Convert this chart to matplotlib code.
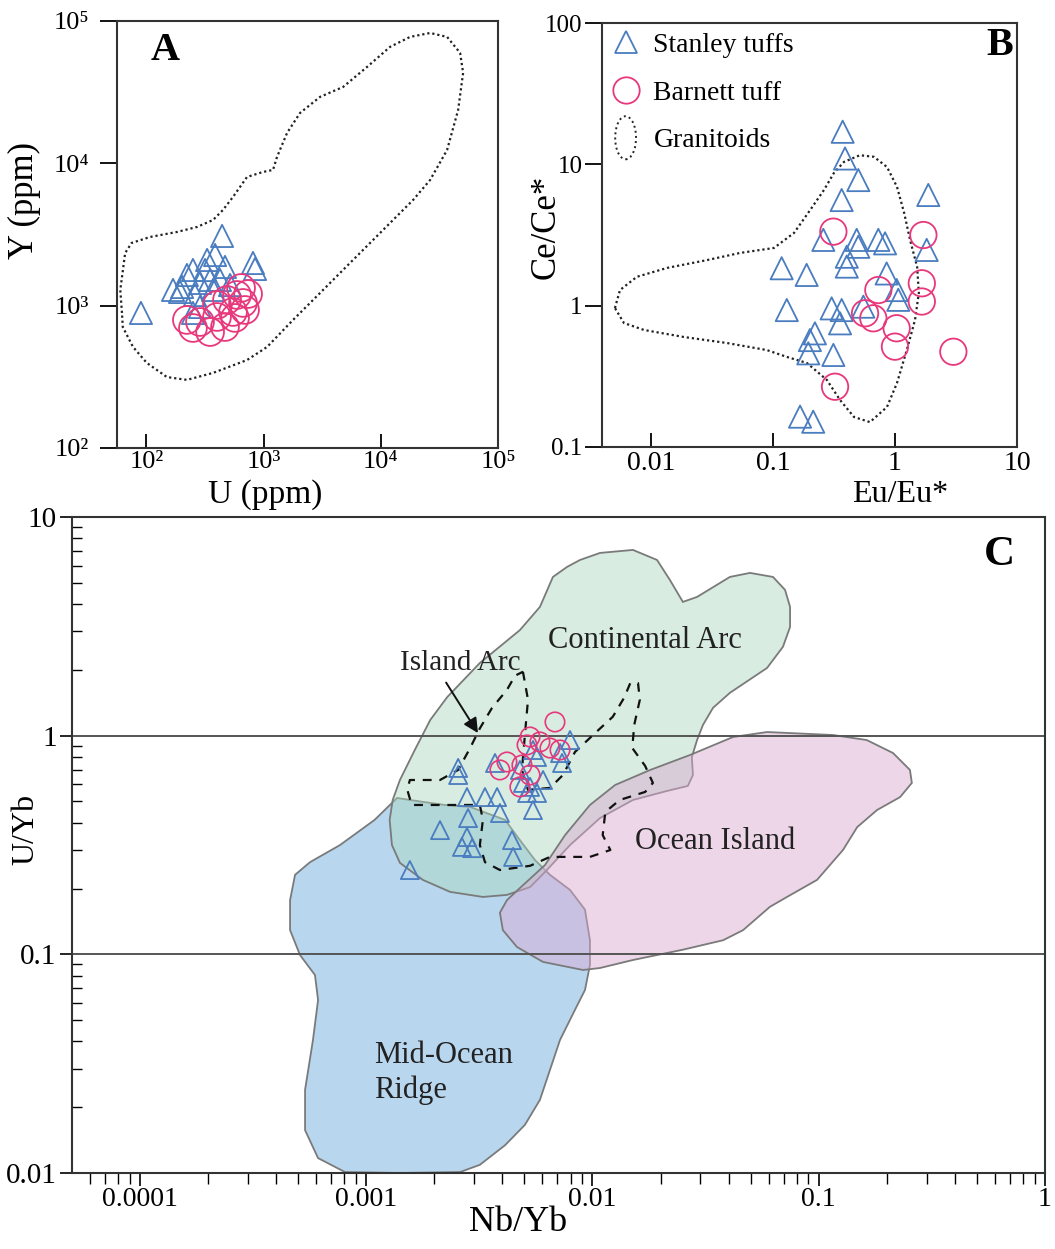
import matplotlib
matplotlib.use("Agg")
import numpy as np
import matplotlib.pyplot as plt
from matplotlib.lines import Line2D
from matplotlib.patches import Ellipse, Polygon
from matplotlib.legend_handler import HandlerPatch
from matplotlib.ticker import LogLocator, NullFormatter, NullLocator

plt.rcParams["font.family"] = ["Liberation Serif", "DejaVu Serif"]

BLUE = "#4a7cc0"
PINK = "#e8387c"
SPINE = "#333333"

# ---------------- panel A : Y vs U (ppm)
stanley_a_u = [90, 443, 813, 846, 250, 330, 386, 469, 202, 194, 287, 350, 425, 287,
               250, 169, 222, 371, 518, 317, 260]
stanley_a_y = [889, 3090, 1995, 1811, 1782, 2095, 2270, 1871, 1353, 1248, 1445, 1516,
               1516, 979, 889, 1290, 1643, 1290, 1397, 1782, 1189]
barnett_a_u = [594, 668, 549, 488, 643, 738, 401, 287, 250, 350, 469, 222, 571, 401, 695]
barnett_a_y = [1189, 1045, 903, 1097, 1332, 1208, 833, 768, 697, 653, 708, 794, 820,
               1012, 933]
granitoid_a_u = [62, 60, 66, 75, 108, 183, 271, 371, 451, 549, 723, 991, 1205, 1303,
                 1588, 2049, 3035, 4769, 7638, 12000, 17780, 26360, 36800, 47500, 50400,
                 45700, 36800, 26360, 18870, 10470, 5800, 3035, 1786, 1072, 723, 371,
                 222, 150, 101, 77, 63]
granitoid_a_y = [889, 1290, 2345, 2760, 3040, 3296, 3573, 4000, 4706, 5808, 8020, 8700,
                 8990, 11090, 16360, 22600, 29300, 34400, 47550, 65800, 77300, 82400,
                 77300, 59700, 43200, 23700, 12420, 7640, 5530, 3404, 2095, 1228, 794,
                 513, 415, 337, 301, 315, 396, 513, 708]
a_ticks = [1e2, 1e3, 1e4, 1e5]
a_tick_labels = ["10²", "10³", "10⁴", "10⁵"]

# ---------------- panel B : Ce/Ce* vs Eu/Eu*
stanley_b_eu = [0.373, 0.390, 0.501, 0.366, 1.876, 0.259, 0.486, 0.501, 0.731, 0.830,
                1.820, 0.118, 0.189, 0.403, 0.403, 0.855, 0.130, 0.303, 0.366, 0.551,
                1.033, 1.065, 0.355, 0.201, 0.221, 0.195, 0.313, 0.167, 0.214]
stanley_b_ce = [17.0, 11.0, 7.74, 5.59, 6.07, 2.92, 2.92, 2.61, 2.92, 2.76, 2.48, 1.84,
                1.65, 2.22, 1.89, 1.69, 0.931, 0.957, 0.931, 0.984, 1.29, 1.10, 0.750,
                0.571, 0.637, 0.460, 0.448, 0.164, 0.151]
barnett_b_eu = [0.313, 1.71, 1.66, 1.66, 0.731, 0.569, 0.665, 1.033, 1.00, 3.01, 0.323]
barnett_b_ce = [3.34, 3.16, 1.44, 1.07, 1.29, 0.883, 0.814, 0.692, 0.513, 0.472, 0.267]
granitoid_b_eu = [0.00508, 0.00559, 0.00768, 0.0136, 0.0288, 0.0537, 0.102, 0.149, 0.202,
                  0.262, 0.316, 0.382, 0.516, 0.673, 0.861, 1.04, 1.19, 1.33, 1.52, 1.57,
                  1.46, 1.25, 1.04, 0.861, 0.624, 0.462, 0.355, 0.277, 0.190, 0.130,
                  0.0893, 0.0421, 0.0187, 0.00879, 0.00602]
granitoid_b_ce = [0.962, 1.29, 1.60, 1.85, 2.10, 2.36, 2.56, 3.27, 4.75, 6.58, 8.68, 10.4,
                  11.6, 11.3, 9.57, 6.92, 4.53, 2.92, 1.88, 1.23, 0.792, 0.485, 0.284,
                  0.192, 0.150, 0.163, 0.215, 0.298, 0.393, 0.434, 0.485, 0.544, 0.600,
                  0.673, 0.754]
b_xticks = [0.01, 0.1, 1, 10]
b_xtick_labels = ["0.01", "0.1", "1", "10"]
b_yticks = [0.1, 1, 10, 100]
b_ytick_labels = ["0.1", "1", "10", "100"]

# ---------------- panel C : U/Yb vs Nb/Yb
stanley_c_nb = [0.00255, 0.00255, 0.00279, 0.00282, 0.00279, 0.00265, 0.00294, 0.00212,
                0.00335, 0.00371, 0.00379, 0.00390, 0.00441, 0.00446, 0.00478, 0.00493,
                0.00530, 0.00514, 0.00569, 0.00546, 0.00546, 0.00569, 0.00719, 0.00734,
                0.00796, 0.00605, 0.00156]
stanley_c_u = [0.712, 0.661, 0.524, 0.420, 0.344, 0.310, 0.306, 0.370, 0.524, 0.750,
               0.524, 0.443, 0.333, 0.279, 0.697, 0.608, 0.583, 0.547, 0.547, 0.457,
               0.860, 0.799, 0.833, 0.750, 0.955, 0.627, 0.243]
barnett_c_nb = [0.00683, 0.00530, 0.00586, 0.00514, 0.00649, 0.00719, 0.00419, 0.00390,
                0.00488, 0.00478, 0.00530]
barnett_c_u = [1.155, 0.986, 0.936, 0.907, 0.878, 0.860, 0.758, 0.697, 0.734, 0.583, 0.661]

mor_nb = [0.00137, 0.00156, 0.00223, 0.00288, 0.00411, 0.00478, 0.00557, 0.00649, 0.00796,
          0.00927, 0.00975, 0.00975, 0.00927, 0.00837, 0.00719, 0.00649, 0.00586,
          0.00503, 0.00411, 0.00318, 0.00260, 0.00141, 0.000806, 0.000613, 0.000537,
          0.000537, 0.000582, 0.000613, 0.000594, 0.000510, 0.000461, 0.000461,
          0.000485, 0.000565, 0.000766, 0.00109]
mor_u = [0.519, 0.508, 0.482, 0.472, 0.412, 0.333, 0.270, 0.231, 0.197, 0.160, 0.116,
         0.0894, 0.0687, 0.0557, 0.0406, 0.0296, 0.0216, 0.0166, 0.0134, 0.0109, 0.0101,
         0.0100, 0.0101, 0.0117, 0.0157, 0.0240, 0.0406, 0.0618, 0.0804, 0.0993, 0.129,
         0.177, 0.231, 0.264, 0.316, 0.412]
ca_nb = [0.00772, 0.00881, 0.0108, 0.0151, 0.0193, 0.0220, 0.0251, 0.0290, 0.0405, 0.0497,
         0.0628, 0.0710, 0.0747, 0.0747, 0.0695, 0.0591, 0.0405, 0.0341, 0.0308, 0.0290,
         0.0275, 0.0278, 0.0264, 0.0214, 0.0151, 0.0108, 0.00796, 0.00617, 0.00530,
         0.00419, 0.00328, 0.00235, 0.00178, 0.00141, 0.00130, 0.00127, 0.00131, 0.00141,
         0.00164, 0.00192, 0.00228, 0.00318, 0.00478, 0.00586, 0.00669]
ca_u = [5.91, 6.36, 6.85, 7.07, 6.36, 5.15, 4.09, 4.31, 5.32, 5.55, 5.32, 4.64, 3.88, 3.14,
        2.55, 2.04, 1.57, 1.34, 1.12, 0.955, 0.799, 0.661, 0.589, 0.559, 0.508, 0.420,
        0.316, 0.238, 0.203, 0.187, 0.183, 0.193, 0.219, 0.262, 0.316, 0.412, 0.508, 0.627,
        0.860, 1.18, 1.50, 2.15, 3.04, 3.88, 5.32]
oi_nb = [0.00617, 0.00757, 0.00975, 0.0126, 0.0180, 0.0270, 0.0418, 0.0591, 0.1156, 0.163,
         0.213, 0.253, 0.258, 0.229, 0.181, 0.148, 0.128, 0.0983, 0.0724, 0.0609, 0.0463,
         0.0378, 0.0251, 0.0151, 0.0108, 0.00909, 0.00605, 0.00464, 0.00402, 0.00390,
         0.00419, 0.00478]
oi_u = [0.256, 0.351, 0.482, 0.595, 0.697, 0.816, 0.986, 1.039, 1.007, 0.955, 0.833, 0.697,
        0.608, 0.524, 0.457, 0.382, 0.300, 0.219, 0.183, 0.165, 0.129, 0.116, 0.105,
        0.0942, 0.0866, 0.0848, 0.0923, 0.108, 0.129, 0.155, 0.177, 0.201]
iarc_nb = [0.00493, 0.00519, 0.00503, 0.00488, 0.00519, 0.00649, 0.00741, 0.00837, 0.0103,
           0.0123, 0.0138, 0.0147, 0.0159, 0.0162, 0.0153, 0.0150, 0.0171, 0.0185, 0.0171,
           0.0132, 0.0114, 0.0111, 0.0120, 0.00975, 0.00649, 0.00530, 0.00390, 0.00335,
           0.00318, 0.00328, 0.00318, 0.00228, 0.00159, 0.00152, 0.00156, 0.00212,
           0.00255, 0.00288, 0.00318, 0.00360, 0.00419, 0.00455]
iarc_u = [1.96, 1.46, 1.01, 0.697, 0.565, 0.577, 0.661, 0.842, 1.03, 1.22, 1.49, 1.74,
          1.74, 1.46, 1.12, 0.878, 0.727, 0.608, 0.553, 0.508, 0.448, 0.351, 0.300, 0.279,
          0.279, 0.254, 0.243, 0.264, 0.316, 0.412, 0.482, 0.482, 0.482, 0.565, 0.627,
          0.627, 0.697, 0.878, 1.08, 1.34, 1.62, 1.88]
island_arc_tip = (0.00312, 1.028)
c_xticks = [1e-4, 1e-3, 1e-2, 1e-1, 1]
c_xtick_labels = ["0.0001", "0.001", "0.01", "0.1", "1"]
c_yticks = [0.01, 0.1, 1, 10]
c_ytick_labels = ["0.01", "0.1", "1", "10"]
c_reference_lines = [1, 0.1]


def closed(xs, ys):
    return list(xs) + [xs[0]], list(ys) + [ys[0]]


def style_spines(ax):
    for sp in ax.spines.values():
        sp.set_color(SPINE)
        sp.set_linewidth(1.5)


def make_ellipse(legend, orig_handle, xdescent, ydescent, width, height, fontsize):
    return Ellipse((0.5 * width - xdescent, 0.5 * height - ydescent), 15, 31)


fig = plt.figure(figsize=(10.55, 12.49), dpi=100)
ax_a = fig.add_axes([117 / 1055, 1 - 448 / 1249, 381 / 1055, 427 / 1249])
ax_b = fig.add_axes([602 / 1055, 1 - 447 / 1249, 415 / 1055, 424 / 1249])
ax_c = fig.add_axes([72 / 1055, 1 - 1173 / 1249, 973 / 1055, 656 / 1249])

dots = (0, (1, 1.3))

# ---- A
ax_a.set_xscale("log")
ax_a.set_yscale("log")
ax_a.set_xlim(10 ** 1.75, 1e5)
ax_a.set_ylim(1e2, 1e5)
gx, gy = closed(granitoid_a_u, granitoid_a_y)
ax_a.plot(gx, gy, color="#222222", lw=1.6, ls=dots)
ax_a.scatter(stanley_a_u, stanley_a_y, marker="^", s=16 ** 2, facecolors="none",
             edgecolors=BLUE, linewidths=1.3, zorder=3)
ax_a.scatter(barnett_a_u, barnett_a_y, marker="o", s=20 ** 2, facecolors="none",
             edgecolors=PINK, linewidths=1.3, zorder=4)
ax_a.set_xticks(a_ticks)
ax_a.set_xticklabels(a_tick_labels)
ax_a.set_yticks(a_ticks)
ax_a.set_yticklabels(a_tick_labels)
ax_a.xaxis.set_minor_locator(NullLocator())
ax_a.yaxis.set_minor_locator(NullLocator())
ax_a.tick_params(axis="x", direction="in", length=10, width=1.3, labelsize=19, pad=2)
ax_a.tick_params(axis="y", direction="out", length=12, width=1.3, labelsize=19, pad=8)
ax_a.set_xlabel("U (ppm)", fontsize=24)
ax_a.set_ylabel("Y (ppm)", fontsize=25)
ax_a.xaxis.set_label_coords(0.388, -0.074)
ax_a.yaxis.set_label_coords(-0.20, 0.58)
ax_a.text(0.126, 0.932, "A", transform=ax_a.transAxes, fontsize=29, fontweight="bold",
          ha="center", va="center")
style_spines(ax_a)

# ---- B
ax_b.set_xscale("log")
ax_b.set_yscale("log")
ax_b.set_xlim(10 ** -2.4, 10)
ax_b.set_ylim(0.1, 100)
gx, gy = closed(granitoid_b_eu, granitoid_b_ce)
ax_b.plot(gx, gy, color="#222222", lw=1.6, ls=dots)
ax_b.scatter(stanley_b_eu, stanley_b_ce, marker="^", s=16 ** 2, facecolors="none",
             edgecolors=BLUE, linewidths=1.3, zorder=3)
ax_b.scatter(barnett_b_eu, barnett_b_ce, marker="o", s=19 ** 2, facecolors="none",
             edgecolors=PINK, linewidths=1.3, zorder=4)
ax_b.set_xticks(b_xticks)
ax_b.set_xticklabels(b_xtick_labels)
ax_b.set_yticks(b_yticks)
ax_b.set_yticklabels(b_ytick_labels)
ax_b.xaxis.set_minor_locator(NullLocator())
ax_b.yaxis.set_minor_locator(NullLocator())
ax_b.tick_params(axis="x", direction="in", length=10, width=1.3, labelsize=20, pad=3)
ax_b.tick_params(axis="y", direction="out", length=12, width=1.3, labelsize=18, pad=2)
ax_b.set_xlabel("Eu/Eu*", fontsize=23)
ax_b.set_ylabel("Ce/Ce*", fontsize=25)
ax_b.xaxis.set_label_coords(0.718, -0.078)
ax_b.yaxis.set_label_coords(-0.094, 0.519)
ax_b.text(0.959, 0.948, "B", transform=ax_b.transAxes, fontsize=29, fontweight="bold",
          ha="center", va="center")
handles = [
    Line2D([], [], ls="none", marker="^", ms=16, mfc="none", mec=BLUE, mew=1.3),
    Line2D([], [], ls="none", marker="o", ms=19, mfc="none", mec=PINK, mew=1.3),
    Ellipse((0, 0), 1, 1, fill=False, ec="#222222", lw=1.4, ls=":"),
]
ax_b.legend(handles, ["Stanley tuffs", "Barnett tuff", "Granitoids"], loc="upper left",
            bbox_to_anchor=(0.0, 1.0), frameon=False, fontsize=20, handlelength=1.0,
            handletextpad=0.5, labelspacing=0.8, borderpad=0.35, borderaxespad=0.0,
            handler_map={Ellipse: HandlerPatch(patch_func=make_ellipse)})
style_spines(ax_b)

# ---- C
ax_c.set_xscale("log")
ax_c.set_yscale("log")
ax_c.set_xlim(10 ** -4.3, 1)
ax_c.set_ylim(0.01, 10)
regions = [
    (mor_nb, mor_u, (120 / 255, 180 / 255, 225 / 255, 0.52)),
    (ca_nb, ca_u, (170 / 255, 215 / 255, 190 / 255, 0.45)),
    (oi_nb, oi_u, (220 / 255, 170 / 255, 210 / 255, 0.48)),
]
for nb, u, fc in regions:
    ax_c.add_patch(Polygon(np.column_stack([nb, u]), closed=True, facecolor=fc,
                           edgecolor="#7a7a7a", lw=1.3, zorder=1))
for level in c_reference_lines:
    ax_c.axhline(level, color="#555555", lw=1.4, zorder=2)
ix, iy = closed(iarc_nb, iarc_u)
ax_c.plot(ix, iy, color="#111111", lw=1.6, ls=(0, (4, 3.5)), zorder=3)
ax_c.scatter(stanley_c_nb, stanley_c_u, marker="^", s=13 ** 2, facecolors="none",
             edgecolors=BLUE, linewidths=1.3, zorder=4)
ax_c.scatter(barnett_c_nb, barnett_c_u, marker="o", s=14 ** 2, facecolors="none",
             edgecolors=PINK, linewidths=1.2, zorder=5)

ax_c.text(0.589, 0.8125, "Continental Arc", transform=ax_c.transAxes, fontsize=22,
          ha="center", va="center", color="#222222")
ax_c.text(0.661, 0.505, "Ocean Island", transform=ax_c.transAxes, fontsize=22,
          ha="center", va="center", color="#222222")
ax_c.text(0.31, 0.152, "Mid-Ocean\nRidge", transform=ax_c.transAxes, fontsize=22,
          ha="left", va="center", color="#222222", linespacing=1.25)
ax_c.annotate("Island Arc", xy=island_arc_tip, xycoords="data",
              xytext=(0.399, 0.777), textcoords="axes fraction", fontsize=21,
              ha="center", va="center", color="#222222",
              arrowprops=dict(arrowstyle="-|>", color="#111111", lw=1.4,
                              mutation_scale=22, shrinkA=3, shrinkB=0,
                              relpos=(0.35, 0.0)))
ax_c.text(0.953, 0.942, "C", transform=ax_c.transAxes, fontsize=31, fontweight="bold",
          ha="center", va="center")

ax_c.set_xticks(c_xticks)
ax_c.set_xticklabels(c_xtick_labels)
ax_c.set_yticks(c_yticks)
ax_c.set_yticklabels(c_ytick_labels)
ax_c.xaxis.set_minor_locator(LogLocator(base=10, subs=np.arange(2, 10)))
ax_c.yaxis.set_minor_locator(LogLocator(base=10, subs=np.arange(2, 10)))
ax_c.xaxis.set_minor_formatter(NullFormatter())
ax_c.yaxis.set_minor_formatter(NullFormatter())
ax_c.tick_params(axis="x", which="major", direction="out", length=9, width=1.2,
                 labelsize=20, pad=1)
ax_c.tick_params(axis="x", which="minor", direction="out", length=8, width=1.0)
ax_c.tick_params(axis="y", which="major", direction="out", length=9, width=1.2,
                 labelsize=21, pad=2)
ax_c.tick_params(axis="y", which="minor", direction="in", length=7, width=1.0)
ax_c.set_xlabel("Nb/Yb", fontsize=26)
ax_c.set_ylabel("U/Yb", fontsize=23)
ax_c.xaxis.set_label_coords(0.458, -0.050)
ax_c.yaxis.set_label_coords(-0.033, 0.523)
style_spines(ax_c)

fig.savefig("out.png", dpi=100, facecolor="white")
